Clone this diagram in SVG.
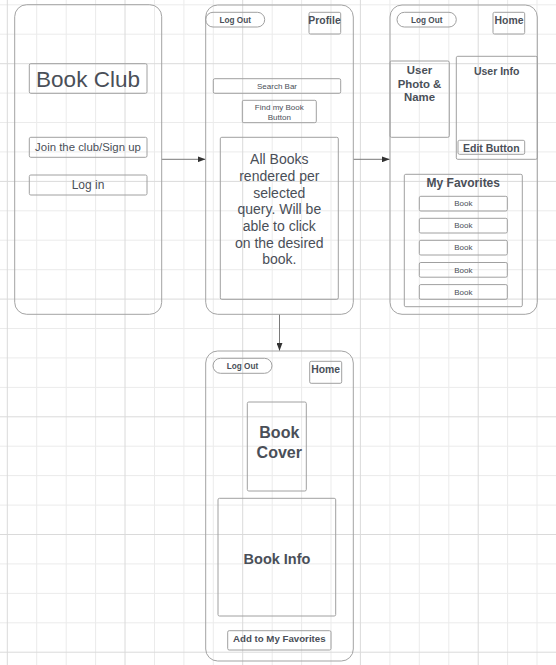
<svg xmlns="http://www.w3.org/2000/svg" width="556" height="665" viewBox="0 0 556 665">
<defs>
<style>
.minor{stroke:#ebebeb;stroke-width:1}
.major{stroke:#dadada;stroke-width:1}
.screen{fill:none;stroke:#a3a3a3;stroke-width:1}
.box{fill:#fff;fill-opacity:0;stroke:#a0a0a0;stroke-width:1}
.t{font-family:"Liberation Sans",Arial,sans-serif;fill:#4a4f58;text-anchor:middle}
.b{font-weight:bold}
.conn{stroke:#7a7a7a;stroke-width:1;fill:none}
</style>
<marker id="ah" viewBox="0 0 8 6" refX="8" refY="3" markerWidth="8" markerHeight="6" markerUnits="userSpaceOnUse" orient="auto">
<path d="M0,0 L8,3 L0,6 Z" fill="#333"/>
</marker>
</defs>
<rect width="556" height="665" fill="#fff"/>
<g id="grid">
<g class="minor">
<line x1="36.7" y1="0" x2="36.7" y2="665"/><line x1="66.2" y1="0" x2="66.2" y2="665"/><line x1="95.6" y1="0" x2="95.6" y2="665"/>
<line x1="154.5" y1="0" x2="154.5" y2="665"/><line x1="183.9" y1="0" x2="183.9" y2="665"/><line x1="213.3" y1="0" x2="213.3" y2="665"/>
<line x1="272.2" y1="0" x2="272.2" y2="665"/><line x1="301.6" y1="0" x2="301.6" y2="665"/><line x1="331" y1="0" x2="331" y2="665"/>
<line x1="389.9" y1="0" x2="389.9" y2="665"/><line x1="419.3" y1="0" x2="419.3" y2="665"/><line x1="448.8" y1="0" x2="448.8" y2="665"/>
<line x1="507.6" y1="0" x2="507.6" y2="665"/><line x1="537" y1="0" x2="537" y2="665"/>
<line x1="0" y1="4.8" x2="556" y2="4.8"/><line x1="0" y1="34.2" x2="556" y2="34.2"/>
<line x1="0" y1="93.1" x2="556" y2="93.1"/><line x1="0" y1="122.5" x2="556" y2="122.5"/><line x1="0" y1="151.9" x2="556" y2="151.9"/>
<line x1="0" y1="210.8" x2="556" y2="210.8"/><line x1="0" y1="240.2" x2="556" y2="240.2"/><line x1="0" y1="269.7" x2="556" y2="269.7"/>
<line x1="0" y1="328.5" x2="556" y2="328.5"/><line x1="0" y1="357.9" x2="556" y2="357.9"/><line x1="0" y1="387.4" x2="556" y2="387.4"/>
<line x1="0" y1="446.2" x2="556" y2="446.2"/><line x1="0" y1="475.6" x2="556" y2="475.6"/><line x1="0" y1="505.1" x2="556" y2="505.1"/>
<line x1="0" y1="563.9" x2="556" y2="563.9"/><line x1="0" y1="593.4" x2="556" y2="593.4"/><line x1="0" y1="622.8" x2="556" y2="622.8"/>
</g>
<g class="major">
<line x1="7.3" y1="0" x2="7.3" y2="665"/><line x1="125" y1="0" x2="125" y2="665"/><line x1="242.7" y1="0" x2="242.7" y2="665"/>
<line x1="360.4" y1="0" x2="360.4" y2="665"/><line x1="478.2" y1="0" x2="478.2" y2="665"/>
<line x1="0" y1="63.7" x2="556" y2="63.7"/><line x1="0" y1="181.4" x2="556" y2="181.4"/><line x1="0" y1="299.1" x2="556" y2="299.1"/>
<line x1="0" y1="416.8" x2="556" y2="416.8"/><line x1="0" y1="534.5" x2="556" y2="534.5"/><line x1="0" y1="652.2" x2="556" y2="652.2"/>
</g>
</g>
<g id="connectors">
<line class="conn" x1="161.7" y1="159.3" x2="205.5" y2="159.3" marker-end="url(#ah)"/>
<line class="conn" x1="353.3" y1="159.3" x2="389.8" y2="159.3" marker-end="url(#ah)"/>
<line class="conn" x1="279.5" y1="314.3" x2="279.5" y2="350.8" marker-end="url(#ah)"/>
</g>
<g id="screen-home">
<rect class="screen" x="14.7" y="4.7" width="147" height="309.6" rx="12"/>
<g id="title-book-club"><rect class="box" x="29.3" y="63.7" width="117.7" height="29.6" rx="1.5"/><text class="t" x="88" y="86.5" font-size="22.5">Book Club</text></g>
<g id="btn-join"><rect class="box" x="29.3" y="137.3" width="117.7" height="20" rx="1.5"/><text class="t" x="88" y="151.3" font-size="11.4">Join the club/Sign up</text></g>
<g id="btn-login"><rect class="box" x="29.3" y="175" width="117.7" height="20" rx="1.5"/><text class="t" x="88" y="189.2" font-size="12">Log in</text></g>
</g>
<g id="screen-search">
<rect class="screen" x="205.7" y="5" width="147.6" height="309.3" rx="12"/>
<g id="s2-logout"><rect class="box" x="205.7" y="12.3" width="59" height="14.7" rx="7.3"/><text class="t b" x="235.2" y="22.7" font-size="8.2">Log Out</text></g>
<g id="s2-profile"><rect class="box" x="309" y="12.3" width="31.7" height="21.7" rx="1.5"/><text class="t b" x="324.5" y="24" font-size="10.4">Profile</text></g>
<g id="s2-search"><rect class="box" x="213.3" y="78.7" width="127.4" height="14.6" rx="1.5"/><text class="t" x="277" y="88.8" font-size="8">Search Bar</text></g>
<g id="s2-find"><rect class="box" x="242.3" y="100.3" width="74" height="22.4" rx="1.5"/><text class="t" x="279.3" y="110.2" font-size="8">Find my Book</text><text class="t" x="279.3" y="120.2" font-size="8">Button</text></g>
<g id="s2-results"><rect class="box" x="220.3" y="137.3" width="118" height="162" rx="1.5"/>
<text class="t" x="279.3" font-size="14"><tspan x="279.3" y="164.2">All Books</tspan><tspan x="279.3" y="180.9">rendered per</tspan><tspan x="279.3" y="197.6">selected</tspan><tspan x="279.3" y="214.3">query. Will be</tspan><tspan x="279.3" y="231">able to click</tspan><tspan x="279.3" y="247.7">on the desired</tspan><tspan x="279.3" y="264.4">book.</tspan></text></g>
</g>
<g id="screen-profile">
<rect class="screen" x="390" y="5" width="147.3" height="309.3" rx="12"/>
<g id="s3-logout"><rect class="box" x="397" y="12.3" width="59.3" height="14.7" rx="7.3"/><text class="t b" x="426.7" y="22.7" font-size="8.2">Log Out</text></g>
<g id="s3-home"><rect class="box" x="493" y="12.3" width="31.7" height="21.7" rx="1.5"/><text class="t b" x="509" y="24" font-size="10.4">Home</text></g>
<g id="s3-photo"><rect class="box" x="390" y="61" width="59.3" height="76.3" rx="1.5"/>
<text class="t b" font-size="11.4"><tspan x="419.5" y="73.8">User</tspan><tspan x="419.5" y="87.5">Photo &amp;</tspan><tspan x="419.5" y="101.2">Name</tspan></text></g>
<g id="s3-info"><rect class="box" x="456.3" y="56.3" width="81" height="103" rx="1.5"/><text class="t b" x="496.7" y="74.5" font-size="10.5">User Info</text></g>
<g id="s3-edit"><rect class="box" x="458" y="140.3" width="66.7" height="14" rx="1.5"/><text class="t b" x="491.3" y="152" font-size="10.5">Edit Button</text></g>
<g id="s3-favorites"><rect class="box" x="404.3" y="174.3" width="118" height="132.4" rx="1.5"/><text class="t b" x="463.3" y="187.3" font-size="12">My Favorites</text></g>
<g id="s3-book1"><rect class="box" x="419.3" y="196.3" width="88" height="14.7" rx="1.5"/><text class="t" x="463.3" y="206.3" font-size="8">Book</text></g>
<g id="s3-book2"><rect class="box" x="419.3" y="218.3" width="88" height="14.7" rx="1.5"/><text class="t" x="463.3" y="228.3" font-size="8">Book</text></g>
<g id="s3-book3"><rect class="box" x="419.3" y="240.3" width="88" height="14.7" rx="1.5"/><text class="t" x="463.3" y="250.3" font-size="8">Book</text></g>
<g id="s3-book4"><rect class="box" x="419.3" y="262.5" width="88" height="14.7" rx="1.5"/><text class="t" x="463.3" y="272.5" font-size="8">Book</text></g>
<g id="s3-book5"><rect class="box" x="419.3" y="284.6" width="88" height="14.7" rx="1.5"/><text class="t" x="463.3" y="294.6" font-size="8">Book</text></g>
</g>
<g id="screen-book">
<rect class="screen" x="205.7" y="351" width="147.6" height="310" rx="12"/>
<g id="s4-logout"><rect class="box" x="213" y="358.3" width="59" height="15" rx="7.5"/><text class="t b" x="242.5" y="368.8" font-size="8.2">Log Out</text></g>
<g id="s4-home"><rect class="box" x="309.7" y="361.3" width="32" height="22" rx="1.5"/><text class="t b" x="325.7" y="373" font-size="10.4">Home</text></g>
<g id="s4-cover"><rect class="box" x="247.3" y="402" width="59" height="89" rx="1.5"/><text class="t b" font-size="16"><tspan x="279.3" y="438">Book</tspan><tspan x="279.3" y="458">Cover</tspan></text></g>
<g id="s4-info"><rect class="box" x="218" y="498.3" width="117.7" height="117.7" rx="1.5"/><text class="t b" x="277" y="563.8" font-size="14.5">Book Info</text></g>
<g id="s4-add"><rect class="box" x="227.7" y="630.7" width="103.3" height="19.3" rx="1.5"/><text class="t b" x="279.3" y="641.8" font-size="9.7">Add to My Favorites</text></g>
</g>
</svg>
